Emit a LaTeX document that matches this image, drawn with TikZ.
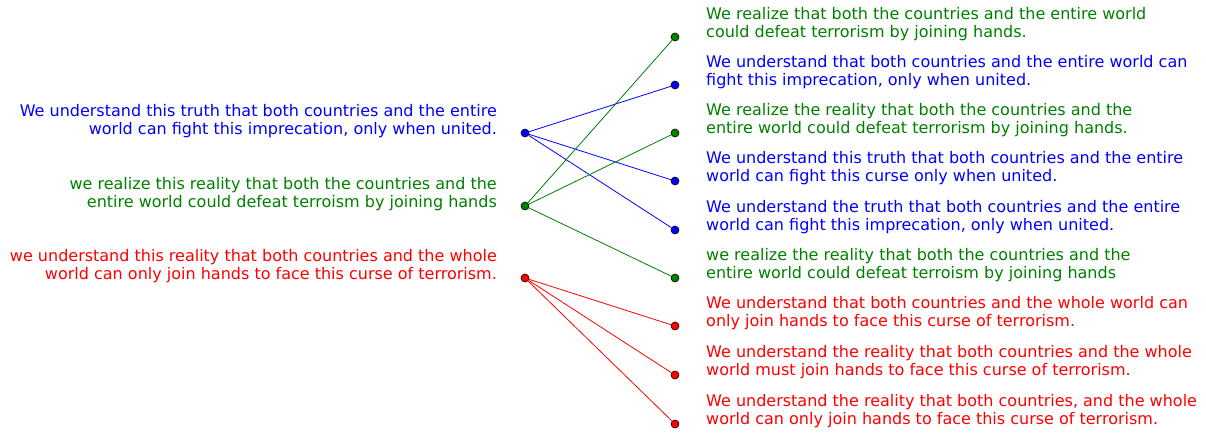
\documentclass[tikz,border=0pt]{standalone}
\usepackage{fontspec}
\setmainfont{DejaVu Sans}
\definecolor{cb}{RGB}{0,0,255}
\definecolor{cg}{RGB}{0,128,0}
\definecolor{cr}{RGB}{255,0,0}
\begin{document}
\begin{tikzpicture}[x=1pt,y=-1pt,
  dot/.style={circle,draw=black,line width=0.6pt,fill=#1,inner sep=0pt,minimum size=8pt},
  ltxt/.style={text=#1,align=right,anchor=base east,inner sep=0pt,font=\fontsize{16}{18}\selectfont},
  rtxt/.style={text=#1,align=left,anchor=base west,inner sep=0pt,font=\fontsize{16}{18}\selectfont},
  link/.style={draw=#1,line width=0.8pt}]
\useasboundingbox (0,0) rectangle (1206,432);
% left dots
\node[dot=cb] (L1) at (525,133) {};
\node[dot=cg] (L2) at (525,206) {};
\node[dot=cr] (L3) at (525,278) {};
% right dots
\node[dot=cg] (R1) at (675,37) {};
\node[dot=cb] (R2) at (675,85) {};
\node[dot=cg] (R3) at (675,133) {};
\node[dot=cb] (R4) at (675,181) {};
\node[dot=cb] (R5) at (675,230) {};
\node[dot=cg] (R6) at (675,278) {};
\node[dot=cr] (R7) at (675,326) {};
\node[dot=cr] (R8) at (675,375) {};
\node[dot=cr] (R9) at (675,424) {};
% links
\draw[link=cb] (L1) -- (R2);
\draw[link=cb] (L1) -- (R4);
\draw[link=cb] (L1) -- (R5);
\draw[link=cg] (L2) -- (R1);
\draw[link=cg] (L2) -- (R3);
\draw[link=cg] (L2) -- (R6);
\draw[link=cr] (L3) -- (R7);
\draw[link=cr] (L3) -- (R8);
\draw[link=cr] (L3) -- (R9);
% left texts
\node[ltxt=cb] (t1) at (497,134) {We understand this truth that both countries and the entire\\world can fight this imprecation, only when united.};
\node[ltxt=cg] (t2) at (497,207) {we realize this reality that both the countries and the\\entire world could defeat terroism by joining hands};
\node[ltxt=cr] (t3) at (497,279) {we understand this reality that both countries and the whole\\world can only join hands to face this curse of terrorism.};
% right texts
\node[rtxt=cg] (s1) at (706,37) {We realize that both the countries and the entire world\\could defeat terrorism by joining hands.};
\node[rtxt=cb] (s2) at (706,85) {We understand that both countries and the entire world can\\fight this imprecation, only when united.};
\node[rtxt=cg] (s3) at (706,133) {We realize the reality that both the countries and the\\entire world could defeat terrorism by joining hands.};
\node[rtxt=cb] (s4) at (706,181) {We understand this truth that both countries and the entire\\world can fight this curse only when united.};
\node[rtxt=cb] (s5) at (706,230) {We understand the truth that both countries and the entire\\world can fight this imprecation, only when united.};
\node[rtxt=cg] (s6) at (706,278) {we realize the reality that both the countries and the\\entire world could defeat terroism by joining hands};
\node[rtxt=cr] (s7) at (706,326) {We understand that both countries and the whole world can\\only join hands to face this curse of terrorism.};
\node[rtxt=cr] (s8) at (706,375) {We understand the reality that both countries and the whole\\world must join hands to face this curse of terrorism.};
\node[rtxt=cr] (s9) at (706,424) {We understand the reality that both countries, and the whole\\world can only join hands to face this curse of terrorism.};
\end{tikzpicture}
\end{document}
